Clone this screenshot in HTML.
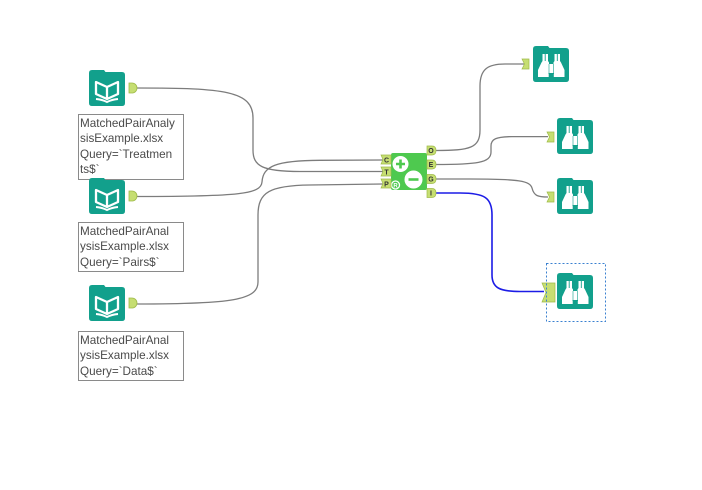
<!DOCTYPE html>
<html><head><meta charset="utf-8"><style>
html,body{margin:0;padding:0;background:#fff;}
#c{position:relative;width:702px;height:490px;overflow:hidden;background:#fff;}
svg{position:absolute;left:0;top:0;}
.lb{position:absolute;box-sizing:border-box;border:1px solid #8a8a8a;background:#fff;font-family:"Liberation Sans",sans-serif;font-size:11.7px;line-height:15.3px;color:#4a4a4a;padding:1px 0 2px 1px;white-space:nowrap;}
</style></head><body><div id="c">
<div class="lb" style="left:78px;top:114px;width:106px;height:66px;">MatchedPairAnaly<br>sisExample.xlsx<br>Query=`Treatmen<br>ts$`</div>
<div class="lb" style="left:78px;top:222px;width:106px;height:50px;">MatchedPairAnal<br>ysisExample.xlsx<br>Query=`Pairs$`</div>
<div class="lb" style="left:78px;top:331px;width:106px;height:50px;">MatchedPairAnal<br>ysisExample.xlsx<br>Query=`Data$`</div>
<svg width="702" height="490" viewBox="0 0 702 490">
<defs>
<g id="book">
<path d="M3,0 H15 L16.5,2 H33 Q36,2 36,5 V33 Q36,36 33,36 H3 Q0,36 0,33 V3 Q0,0 3,0 Z" fill="#12a08c"/>
<path d="M7,12 L18,17 L18,29 L7,24 Z M29,12 L18,17 L18,29 L29,24 Z" fill="none" stroke="#fff" stroke-width="2.3" stroke-linejoin="round"/>
<path d="M7,29 Q13,29.5 18,32 Q23,29.5 29,29" fill="none" stroke="#fff" stroke-width="2"/>
</g>
<g id="bino">
<path d="M3,0 H15 L16.5,2 H33 Q36,2 36,5 V33 Q36,36 33,36 H3 Q0,36 0,33 V3 Q0,0 3,0 Z" fill="#12a08c"/>
<path d="M9.5,8 H15 V15 L16,16.5 V31 H5 V24 L8.5,16.5 L9.5,15 Z" fill="#fff"/>
<path d="M27,8 H21.5 V15 L20.5,16.5 V31 H31.5 V24 L28,16.5 L27,15 Z" fill="#fff"/>
<rect x="16" y="18" width="4.5" height="9" fill="#fff"/>
<path d="M12.2,8 V15 M24.3,8 V15" stroke="#12a08c" stroke-width="0.9"/>
<path d="M16,18 V31 M20.5,18 V31" stroke="#12a08c" stroke-width="0.6"/>
<path d="M15.5,27.5 H21" stroke="#12a08c" stroke-width="1"/>
</g>
</defs>

<!-- connectors -->
<g fill="none" stroke="#7c7c7c" stroke-width="1.3">
<path d="M137,88 C225,88 253,91 253,118 L253,150 C253,166 262,171.5 300,171.5 L383,171.5"/>
<path d="M137,196.5 C240,196.5 261,194 262,182 C263,166 276,160.5 320,160.3 L383,160"/>
<path d="M137,304 C232,304 258,300 258,282 L258,215 C258,192 270,185.5 310,185 L383,184"/>
<path d="M436,150.5 C470,150.5 480,148 480,130 L480,86 C480,69 488,64 505,64 L524,64"/>
<path d="M436,164.5 C476,164.5 491,163 491,152 L491,146 C491,139 496,136.8 512,136.6 L548,136.6"/>
<path d="M436,179 L470,179 C520,179 530,181 532,188 C534,196 538,197 548,197"/>
</g>
<path d="M436,193 L460,193 C485,193 492,198 492,215 L492,275 C492,288 500,291.5 520,291.5 L544,291.5" fill="none" stroke="#1c1ce6" stroke-width="1.6"/>

<!-- input tools -->
<use href="#book" x="89" y="70"/>
<use href="#book" x="89" y="178"/>
<use href="#book" x="89" y="285"/>
<g fill="#c6de72" stroke="#9fbb48" stroke-width="0.8">
<path d="M129,83 h3 a5,5 0 0 1 0,10 h-3 z"/>
<path d="M129,191 h3 a5,5 0 0 1 0,10 h-3 z"/>
<path d="M129,298 h3 a5,5 0 0 1 0,10 h-3 z"/>
</g>

<!-- central tool -->
<rect x="391" y="153" width="36" height="37" rx="2" fill="#4ec94f"/>
<circle cx="400.5" cy="164" r="8" fill="#fff"/>
<path d="M396,164 H405 M400.5,159.5 V168.5" stroke="#4ec94f" stroke-width="2.6"/>
<circle cx="413.5" cy="179.5" r="9" fill="#fff"/>
<path d="M408.5,179.5 H418.5" stroke="#4ec94f" stroke-width="2.6"/>
<circle cx="395.5" cy="185" r="4" fill="none" stroke="#fff" stroke-width="1.3"/>
<text x="395.5" y="187.3" font-family="Liberation Sans,sans-serif" font-size="6" font-weight="bold" fill="#fff" text-anchor="middle">R</text>
<g fill="#c6de72" stroke="#9fbb48" stroke-width="0.7">
<path d="M381,155 H391 V164 H381 L383,159.5 Z"/>
<path d="M381,167 H391 V176 H381 L383,171.5 Z"/>
<path d="M381,179 H391 V188 H381 L383,183.5 Z"/>
<path d="M427,146 H432 Q436,146 436,150.5 Q436,155 432,155 H427 Z"/>
<path d="M427,160 H432 Q436,160 436,164.5 Q436,169 432,169 H427 Z"/>
<path d="M427,174.5 H432 Q436,174.5 436,179 Q436,183.5 432,183.5 H427 Z"/>
<path d="M427,188.5 H432 Q436,188.5 436,193 Q436,197.5 432,197.5 H427 Z"/>
</g>
<g font-family="Liberation Sans,sans-serif" font-size="7" font-weight="bold" fill="#333" text-anchor="middle">
<text x="386.5" y="162.3">C</text>
<text x="386.5" y="174.3">T</text>
<text x="386.5" y="186.3">P</text>
<text x="431" y="153">O</text>
<text x="431" y="167">E</text>
<text x="431" y="181.5">G</text>
<text x="431" y="195.5">I</text>
</g>

<!-- browse tools -->
<use href="#bino" x="533" y="46"/>
<use href="#bino" x="557" y="118"/>
<use href="#bino" x="557" y="178"/>
<use href="#bino" x="557" y="273"/>
<g fill="#c6de72" stroke="#9fbb48" stroke-width="0.7">
<path d="M522,59 H529 V69 H522 L524.5,64 Z"/>
<path d="M547,132 H554 V142 H547 L549.5,137 Z"/>
<path d="M547,192 H554 V202 H547 L549.5,197 Z"/>
<path d="M542,283 H555 V302 H542 L546,292.5 Z"/>
</g>
<rect x="546.5" y="263.5" width="59" height="58" fill="none" stroke="#3a80d0" stroke-width="1" stroke-dasharray="2,2"/>
</svg>
</div></body></html>
